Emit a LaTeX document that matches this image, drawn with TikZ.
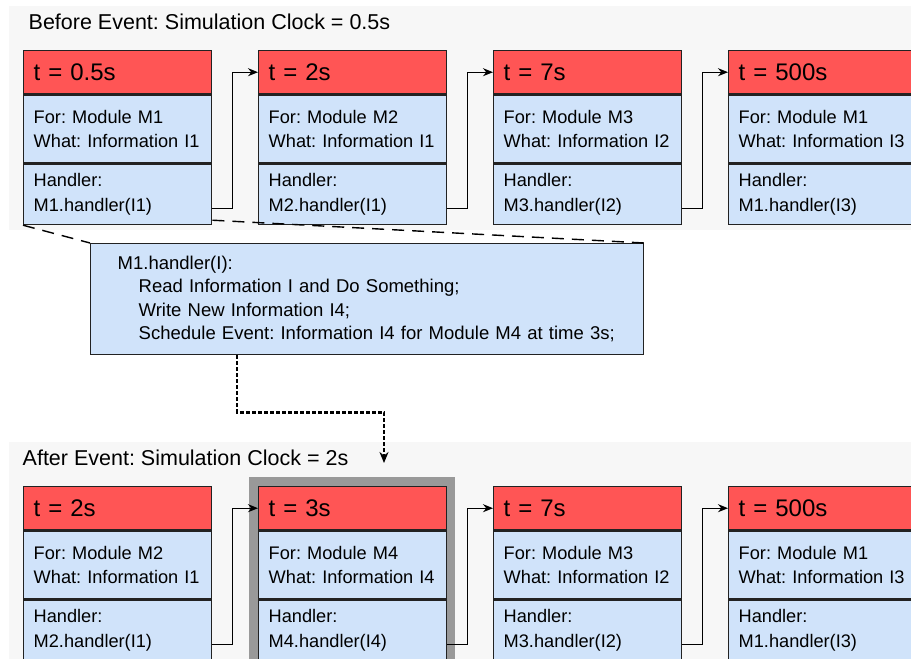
\documentclass[tikz,border=0pt]{standalone}
\usepackage{fontspec}
\setmainfont{Liberation Sans}
\usetikzlibrary{arrows.meta,positioning}

\definecolor{evred}{HTML}{FF5555}
\definecolor{evblue}{HTML}{D0E3FA}
\definecolor{panelgray}{HTML}{F7F7F7}
\definecolor{framegray}{HTML}{999999}
\definecolor{edge}{HTML}{222222}
\frenchspacing

\begin{document}
\begin{tikzpicture}[
    x=1pt, y=-1pt,%
    line width=1.4pt,%
    part/.style={draw=edge, anchor=north west, align=left, inner xsep=10pt, inner ysep=0pt, text width=168pt, minimum width=188pt},%
    timebox/.style={part, fill=evred, minimum height=43pt, font=\fontsize{24}{28}\selectfont},%
    infobox/.style={part, fill=evblue, minimum height=68pt, font=\fontsize{18.2}{24}\selectfont},%
    handlerbox/.style={part, fill=evblue, minimum height=60pt, font=\fontsize{18.2}{25}\selectfont},%
    procbox/.style={draw=edge, fill=evblue, anchor=north west, align=left, inner xsep=25pt, text width=503pt, minimum width=553pt, minimum height=111pt, font=\fontsize{18.5}{23.5}\selectfont},%
    title/.style={anchor=base west, inner sep=0pt, font=\fontsize{21.5}{26}\selectfont},%
    next/.style={-{Stealth[length=10pt,width=8pt]}},%
    zoomline/.style={dash pattern=on 12pt off 8pt},%
    schedule/.style={-{Stealth[length=11pt,width=9pt]}, line width=2.4pt, dash pattern=on 4pt off 2pt}%
  ]
    \useasboundingbox (0,0) rectangle (911,659);

    %% Panels
    \fill[panelgray] (9,6) rectangle (911,230);
    \fill[panelgray] (9,442) rectangle (911,670);
    \fill[framegray] (249,477) rectangle (455,670);

    \node[title] (before) at (28,29) {Before Event: Simulation Clock = 0.5s};
    \node[title] (after) at (22,465) {After Event: Simulation Clock = 2s};

    %% Queue before the event
    \node[timebox] (bt1) at (23,50) {t = 0.5s};
    \node[infobox, below=0pt of bt1] (bi1) {For: Module M1\\What: Information I1};
    \node[handlerbox, below=0pt of bi1] (bh1) {Handler:\\M1.handler(I1)};

    \node[timebox] (bt2) at (258,50) {t = 2s};
    \node[infobox, below=0pt of bt2] (bi2) {For: Module M2\\What: Information I1};
    \node[handlerbox, below=0pt of bi2] (bh2) {Handler:\\M2.handler(I1)};

    \node[timebox] (bt3) at (493,50) {t = 7s};
    \node[infobox, below=0pt of bt3] (bi3) {For: Module M3\\What: Information I2};
    \node[handlerbox, below=0pt of bi3] (bh3) {Handler:\\M3.handler(I2)};

    \node[timebox] (bt4) at (728,50) {t = 500s};
    \node[infobox, below=0pt of bt4] (bi4) {For: Module M1\\What: Information I3};
    \node[handlerbox, below=0pt of bi4] (bh4) {Handler:\\M1.handler(I3)};

    %% Queue after the event
    \node[timebox] (at1) at (23,486) {t = 2s};
    \node[infobox, below=0pt of at1] (ai1) {For: Module M2\\What: Information I1};
    \node[handlerbox, below=0pt of ai1] (ah1) {Handler:\\M2.handler(I1)};

    \node[timebox] (at2) at (258,486) {t = 3s};
    \node[infobox, below=0pt of at2] (ai2) {For: Module M4\\What: Information I4};
    \node[handlerbox, below=0pt of ai2] (ah2) {Handler:\\M4.handler(I4)};

    \node[timebox] (at3) at (493,486) {t = 7s};
    \node[infobox, below=0pt of at3] (ai3) {For: Module M3\\What: Information I2};
    \node[handlerbox, below=0pt of ai3] (ah3) {Handler:\\M3.handler(I2)};

    \node[timebox] (at4) at (728,486) {t = 500s};
    \node[infobox, below=0pt of at4] (ai4) {For: Module M1\\What: Information I3};
    \node[handlerbox, below=0pt of ai4] (ah4) {Handler:\\M1.handler(I3)};

    %% Handler detail
    \node[procbox] (proc) at (90,243) {\hspace*{2pt}M1.handler(I):\\
      \hspace*{23pt}Read Information I and Do Something;\\
      \hspace*{23pt}Write New Information I4;\\
      \hspace*{23pt}Schedule Event: Information I4 for Module M4 at time 3s;};
    \draw[zoomline] (bh1.south west) -- (proc.north west);
    \draw[zoomline] ([yshift=5pt]bh1.south east) -- (proc.north east);

    %% Links
    \draw[next] ([yshift=17pt]bh1.south east) -- ++(20,0) |- (bt2.west);
    \draw[next] ([yshift=17pt]bh2.south east) -- ++(20,0) |- (bt3.west);
    \draw[next] ([yshift=17pt]bh3.south east) -- ++(20,0) |- (bt4.west);
    \draw[next] ([yshift=17pt]ah1.south east) -- ++(20,0) |- (at2.west);
    \draw[next] ([yshift=17pt]ah2.south east) -- ++(20,0) |- (at3.west);
    \draw[next] ([yshift=17pt]ah3.south east) -- ++(20,0) |- (at4.west);

    \coordinate (drop) at (384,463);
    \draw[schedule] ([xshift=147pt]proc.south west) -- ++(0,57) -| (drop);
  \end{tikzpicture}
\end{document}
